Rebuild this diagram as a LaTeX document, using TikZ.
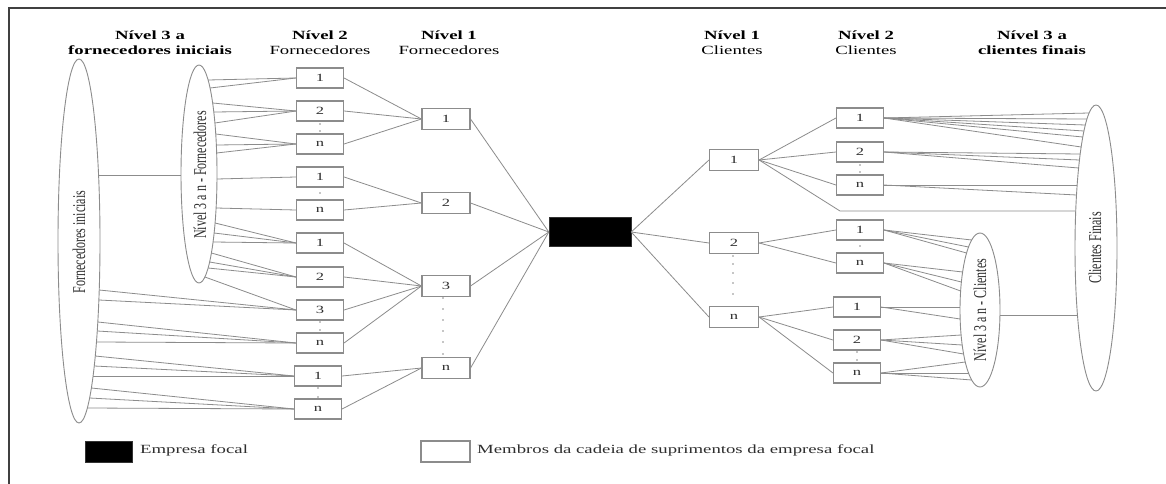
\documentclass[tikz,border=0pt]{standalone}
\usepackage{fontspec}
\usetikzlibrary{shapes.geometric}
\setmainfont{Liberation Serif}
\newfontfamily\wide[FakeStretch=1.5]{Liberation Serif}
\newfontfamily\tall[FakeStretch=0.667]{Liberation Serif}
\definecolor{linegray}{gray}{0.55}
\definecolor{boxgray}{gray}{0.55}
\definecolor{ink}{gray}{0.18}
\begin{document}
\begin{tikzpicture}[x=1pt,y=-1pt,
  member/.style={draw=boxgray, line width=1.1pt, fill=white, minimum width=47pt,
    minimum height=20pt, inner sep=0pt, text=ink, font=\wide\fontsize{11}{11}\selectfont},
  focalbox/.style={fill=black, draw=black!80, inner sep=0pt},
  link/.style={draw=linegray, line width=0.8pt},
  group/.style={ellipse, draw=linegray, line width=0.9pt, inner sep=0pt},
  vlabel/.style={rotate=90, text=ink, inner sep=0pt, font=\tall\fontsize{18}{18}\selectfont},
  head/.style={align=center, text=black, font=\wide\fontsize{12.5}{15}\selectfont},
  legtext/.style={anchor=west, text=ink, inner sep=0pt, font=\wide\fontsize{12.5}{15}\selectfont},
  gap/.style={fill=linegray}]
\useasboundingbox (0,0) rectangle (1166,484);
\fill[white] (0,0) rectangle (1166,484);
% frame
\draw[line width=1.6pt, draw=black!75] (9,484) -- (9,8) -- (1166,8);

% column headings
\node[head] (h3f) at (150,43) {\textbf{Nível 3 a}\\\textbf{fornecedores iniciais}};
\node[head] (h2f) at (320,43) {\textbf{Nível 2}\\Fornecedores};
\node[head] (h1f) at (449,43) {\textbf{Nível 1}\\Fornecedores};
\node[head] (h1c) at (732,43) {\textbf{Nível 1}\\Clientes};
\node[head] (h2c) at (866,43) {\textbf{Nível 2}\\Clientes};
\node[head] (h3c) at (1032,43) {\textbf{Nível 3 a}\\\textbf{clientes finais}};

% supplier groups
\node[group, minimum width=42, minimum height=364] (efi) at (79,241) {};
\node[vlabel] (tfi) at (79,242) {Fornecedores iniciais};
\node[group, minimum width=36, minimum height=218] (e3f) at (199,174) {};
\node[vlabel] (t3f) at (200,175) {Nível 3 a n - Fornecedores};

% level 2 suppliers
\node[member] (s2a) at (320,78) {1};
\node[member] (s2b) at (320,111) {2};
\node[member] (s2c) at (320,144) {n};
\node[member] (s2d) at (320,177) {1};
\node[member] (s2e) at (320,210) {n};
\node[member] (s2f) at (320,243) {1};
\node[member] (s2g) at (320,277) {2};
\node[member] (s2h) at (320,310) {3};
\node[member] (s2i) at (320,343) {n};
\node[member] (s2j) at (318,376) {1};
\node[member] (s2k) at (318,409) {n};

% level 1 suppliers
\node[member, minimum width=48, minimum height=21] (s1a) at (446,119) {1};
\node[member, minimum width=48, minimum height=21] (s1b) at (446,203) {2};
\node[member, minimum width=48, minimum height=21] (s1c) at (446,286) {3};
\node[member, minimum width=48, minimum height=21] (s1d) at (446,368) {n};

% focal company
\node[focalbox, minimum width=82, minimum height=29] (focal) at (590,232) {};

% level 1 customers
\node[member, minimum width=49, minimum height=21] (c1a) at (734,160) {1};
\node[member, minimum width=49, minimum height=21] (c1b) at (734,243) {2};
\node[member, minimum width=49, minimum height=21] (c1c) at (734,317) {n};

% level 2 customers
\node[member] (c2a) at (860,118) {1};
\node[member] (c2b) at (860,152) {2};
\node[member] (c2c) at (860,185) {n};
\node[member] (c2d) at (860,230) {1};
\node[member] (c2e) at (860,263) {n};
\node[member] (c2f) at (857,307) {1};
\node[member] (c2g) at (857,340) {2};
\node[member] (c2h) at (857,373) {n};

% customer groups
\node[group, minimum width=42, minimum height=286] (ecf) at (1096,248) {};
\node[vlabel] (tcf) at (1095,248) {Clientes Finais};
\node[group, minimum width=40, minimum height=154] (e3c) at (980,310) {};
\node[vlabel] (t3c) at (980,310) {Nível 3 a n - Clientes};

% supplier side links
\foreach \a/\b in {s2a/s1a,s2b/s1a,s2c/s1a,s2d/s1b,s2e/s1b,s2f/s1c,s2g/s1c,s2h/s1c,s2i/s1c,s2j/s1d,s2k/s1d}
  \draw[link] (\a.east) -- (\b.west);
\foreach \a in {s1a,s1b,s1c,s1d}
  \draw[link] (\a.east) -- (focal.west);

% customer side links
\foreach \b in {c1a,c1b,c1c}
  \draw[link] (focal.east) -- (\b.west);
\foreach \a/\b in {c1a/c2a,c1a/c2b,c1a/c2c,c1b/c2d,c1b/c2e,c1c/c2f,c1c/c2g,c1c/c2h}
  \draw[link] (\a.east) -- (\b.west);
\coordinate (bend) at (840,211);
\pgfmathsetmacro\dxb{-21*sqrt(1-(37/143)^2)}
\draw[link] (c1a.east) -- (bend) -- ([shift={(\dxb,-37)}]ecf.center);

% fans: tier 3..n suppliers to level 2
\foreach \dy/\t in {-94/s2a,-86/s2a,-71/s2b,-62/s2b,-51/s2b,-40/s2c,-29/s2c,-21/s2c,5/s2d,34/s2e,
                    49/s2f,59/s2f,68/s2f,79/s2g,88/s2g,94/s2g,103/s2h}{
  \pgfmathsetmacro\dx{18*sqrt(1-(\dy/109)^2)}
  \draw[link] ([shift={(\dx,\dy)}]e3f.center) -- (\t.west);
}
% fans: initial suppliers to level 2
\foreach \dy/\t in {49/s2h,59/s2h,81/s2i,90/s2i,101/s2i,115/s2j,125/s2j,135/s2j,147/s2k,157/s2k,167/s2k}{
  \pgfmathsetmacro\dx{21*sqrt(1-(\dy/182)^2)}
  \draw[link] ([shift={(\dx,\dy)}]efi.center) -- (\t.west);
}
\pgfmathsetmacro\dxa{21*sqrt(1-(66/182)^2)}
\draw[link] ([shift={(\dxa,-66)}]efi.center) -- ([shift={(-18,1)}]e3f.center);

% fans: level 2 customers to final customers
\foreach \dy/\t in {-135/c2a,-129/c2a,-123/c2a,-117/c2a,-111/c2a,-101/c2a,-94/c2b,-88/c2b,-80/c2b,-63/c2c,-53/c2c}{
  \pgfmathsetmacro\dx{-21*sqrt(1-(\dy/143)^2)}
  \draw[link] (\t.east) -- ([shift={(\dx,\dy)}]ecf.center);
}
% fans: level 2 customers to tier 3..n customers
\foreach \dy/\t in {-70/c2d,-63/c2d,-57/c2d,-38/c2e,-28/c2e,-19/c2e,-3/c2f,9/c2f,25/c2g,35/c2g,44/c2g,52/c2h,63/c2h,70/c2h}{
  \pgfmathsetmacro\dx{-20*sqrt(1-(\dy/77)^2)}
  \draw[link] (\t.east) -- ([shift={(\dx,\dy)}]e3c.center);
}
\pgfmathsetmacro\dxc{-21*sqrt(1-(67/143)^2)}
\draw[link] ([shift={(19.9,5)}]e3c.center) -- ([shift={(\dxc,67)}]ecf.center);

% ellipsis dots between members
\foreach \x/\y in {320/124,320/131,320/193,320/322,320/330,318/388,318/397,
                   443/298,443/309,443/320,443/331,443/342,443/354,
                   733/256,733/264,733/273,733/283,733/294,
                   860/165,860/172,860/246,857/352,857/360}
  \fill[gap] (\x,\y) circle (0.9);

% legend
\node[focalbox, minimum width=47, minimum height=21] (lgf) at (108.5,451.5) {};
\node[legtext] (lgft) at (140,450) {Empresa focal};
\node[member, minimum width=49, minimum height=21] (lgm) at (445.5,451.5) {};
\node[legtext] (lgmt) at (477,450) {Membros da cadeia de suprimentos da empresa focal};
\end{tikzpicture}
\end{document}
